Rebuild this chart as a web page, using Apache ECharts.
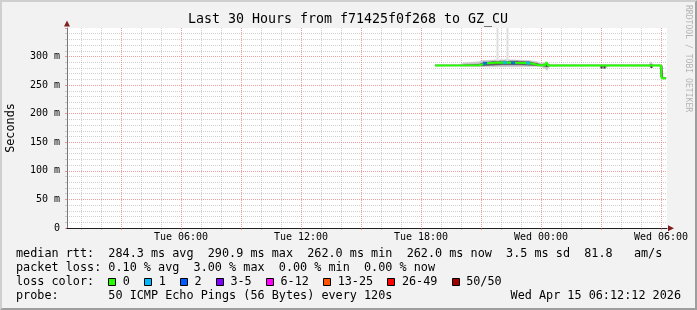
<!DOCTYPE html>
<html><head><meta charset="utf-8">
<script src="https://cdn.jsdelivr.net/npm/echarts@6/dist/echarts.min.js"></script>
<style>html,body{margin:0;padding:0;background:#f2f2f2}#c{width:697px;height:310px}</style>
</head><body><div id="c"></div>
<script>
// ================= DATA =================
const titleText = 'Last 30 Hours from f71425f0f268 to GZ_CU';
const yAxisName = 'Seconds';
const xTickHours = [6, 12, 18, 24, 30];
const xTickLabels = ['Tue 06:00', 'Tue 12:00', 'Tue 18:00', 'Wed 00:00', 'Wed 06:00'];
const yTickValues = [0, 50, 100, 150, 200, 250, 300];
const yTickLabels = ['0', '50 m', '100 m', '150 m', '200 m', '250 m', '300 m'];

// median RTT (ms) vs hours since Tue 00:00
const medianHours = [18.7, 20.9, 21.05, 21.3, 21.7, 22.2, 22.7, 23.2, 23.6, 23.85, 24.2, 24.27, 24.35, 29.45, 30.0, 30.03, 30.25];
const medianRtt   = [284.5, 284.8, 286, 288.5, 289, 289.5, 289, 288.8, 287.5, 285, 284.7, 290, 284.5, 284.3, 284.3, 262, 262];

// smoke (ping spread) bands
const smokeHours   = [18.7, 19.9, 20.2, 20.9, 21.1, 21.6, 22.2, 22.8, 23.4, 23.8, 24.0, 24.2, 24.3, 24.45, 26.9, 27.05, 27.25, 27.4, 29.4, 29.5, 29.6, 29.95, 30.03, 30.1, 30.25];
const smokeOuterLo = [283.5, 283.5, 283, 282.5, 282, 282, 282, 282, 282.5, 283, 282, 279, 276, 283, 283.5, 279.5, 280, 283.5, 283, 281, 283.5, 283.5, 262, 260.5, 260.5];
const smokeOuterHi = [286, 286, 289, 291, 293, 294, 294.5, 294, 293, 291, 288.5, 289, 290, 286, 286, 286, 286, 286, 286, 291, 286, 286, 285, 264, 264];
const smokeInnerLo = [284, 284, 284, 284, 284, 285, 285.5, 285.5, 285, 284, 284, 283, 282, 284, 284, 284, 284, 284, 284, 283, 284, 284, 264, 261.5, 261.5];
const smokeInnerHi = [285, 285, 285.5, 286.5, 289, 291.5, 292, 292, 291, 288, 285.5, 287, 288, 285, 285, 285, 285, 285, 285, 286, 285, 285, 276, 263, 263];

// isolated far pings (faint tall spikes) and dark short marks
const spikeHours = [21.8, 22.3];
const spikeLo    = [292, 292];
const spikeHi    = [352, 352];
const markHours  = [24.25, 27.0, 27.15, 29.5, 30.02];
const markLo     = [283, 279, 279, 280, 264];
const markHi     = [289, 284, 284, 285.5, 284];

// samples with packet loss (lost pings out of 50)
const lossHours = [21.2, 22.2, 22.6, 23.35];
const lossRtt   = [288.3, 289.5, 289, 288.6];
const lossCount = [2, 1, 2, 1];

const lossLabels = ['0', '1', '2', '3-5', '6-12', '13-25', '26-49', '50/50'];
const lossUpper  = [0, 1, 2, 5, 12, 25, 49, 50];
const medianStats = ['284.3 ms avg', '290.9 ms max', '262.0 ms min', '262.0 ms now', '3.5 ms sd', '81.8   am/s'];
const lossStats   = ['0.10 % avg', '3.00 % max', '0.00 % min', '0.00 % now'];
const probeText   = '50 ICMP Echo Pings (56 Bytes) every 120s';
const stampText   = 'Wed Apr 15 06:12:12 2026';
const watermark   = 'RRDTOOL / TOBI OETIKER';

// ================= STYLE / LAYOUT =================
const lossColors = ['#26ff00', '#00b8ff', '#0059ff', '#7e00ff', '#ff00ff', '#ff5500', '#ff0000', '#a10000'];
const MONO = 'DejaVu Sans Mono';
const GRID = {left: 67, right: 30, top: 28, bottom: 82};
const X_MIN = 0.3, X_MAX = 30.3;
const minorGrid = 'rgba(143,143,143,0.42)';
const majorGrid = 'rgba(222,79,79,0.55)';
const CH = 7.1, TX = 16;

const allHours = [];
for (let h = 1; h <= 30; h++) allHours.push(h);
const majorHours = allHours.filter(h => h % 3 === 0);
const minorHours = allHours.filter(h => h % 3 !== 0);

const zip = (a, b) => a.map((v, i) => [v, b[i]]);
const bucket = n => lossUpper.findIndex(u => n <= u);

function bandSeries(lo, hi, color) {
  return {
    type: 'custom', silent: true, z: 2, clip: true,
    data: smokeHours.map((h, i) => [h, lo[i], hi[i], i]),
    encode: {x: 0, y: [1, 2]},
    renderItem: (params, api) => {
      const i = api.value(3);
      if (i >= smokeHours.length - 1) return null;
      const a1 = api.coord([smokeHours[i], lo[i]]);
      const b1 = api.coord([smokeHours[i], hi[i]]);
      const a2 = api.coord([smokeHours[i + 1], lo[i + 1]]);
      const b2 = api.coord([smokeHours[i + 1], hi[i + 1]]);
      return {type: 'polygon', shape: {points: [a1, a2, b2, b1]}, style: {fill: color, stroke: color, lineWidth: 0.5}};
    }
  };
}
function vlineSeries(hours, lo, hi, color, width) {
  return {
    type: 'custom', silent: true, z: 3, clip: true,
    data: hours.map((h, i) => [h, lo[i], hi[i]]),
    encode: {x: 0, y: [1, 2]},
    renderItem: (params, api) => {
      const a = api.coord([api.value(0), api.value(1)]);
      const b = api.coord([api.value(0), api.value(2)]);
      return {type: 'line', shape: {x1: Math.round(a[0]) + 0.5, y1: a[1], x2: Math.round(a[0]) + 0.5, y2: b[1]},
              style: {stroke: color, lineWidth: width}};
    }
  };
}

const W = 697, H = 310;
const g = [];
g.push({type: 'polygon', shape: {points: [[0,0],[W,0],[W-2,2],[2,2],[2,H-2],[0,H]]}, style: {fill: '#cfcfcf'}, silent: true});
g.push({type: 'polygon', shape: {points: [[W,0],[W,H],[0,H],[2,H-2],[W-2,H-2],[W-2,2]]}, style: {fill: '#9e9e9e'}, silent: true});
g.push({type: 'text', x: 348, y: 19.5, style: {text: titleText, font: '13.3px "' + MONO + '"', fill: '#000', align: 'center', verticalAlign: 'middle'}});
g.push({type: 'text', x: 11, y: 128, rotation: Math.PI / 2, style: {text: yAxisName, font: '11.8px "' + MONO + '"', fill: '#000', align: 'center', verticalAlign: 'middle'}});
g.push({type: 'text', x: 688, y: 5, rotation: -Math.PI / 2, style: {text: watermark, font: '8.1px "' + MONO + '"', fill: '#b4b4b4', align: 'left', verticalAlign: 'middle'}});
g.push({type: 'polygon', shape: {points: [[64,26.5],[70,26.5],[67,20.5]]}, style: {fill: '#801f1f'}, silent: true});
g.push({type: 'polygon', shape: {points: [[668,225.3],[668,231.3],[674,228.3]]}, style: {fill: '#801f1f'}, silent: true});
const legendFont = '11.8px "' + MONO + '"';
g.push({type: 'text', x: TX, y: 254, style: {text: 'median rtt:  ' + medianStats.join('  '), font: legendFont, fill: '#000', verticalAlign: 'middle'}});
g.push({type: 'text', x: TX, y: 268, style: {text: 'packet loss: ' + lossStats.join('  '), font: legendFont, fill: '#000', verticalAlign: 'middle'}});
g.push({type: 'text', x: TX, y: 282, style: {text: 'loss color:', font: legendFont, fill: '#000', verticalAlign: 'middle'}});
let col = 13;
lossLabels.forEach((lab, i) => {
  const bx = TX + col * CH;
  g.push({type: 'rect', shape: {x: Math.round(bx) + 0.5, y: 278.5, width: 7, height: 7}, style: {fill: lossColors[i], stroke: '#000', lineWidth: 1}, silent: true});
  g.push({type: 'text', x: bx + 2.05 * CH, y: 282, style: {text: lab, font: legendFont, fill: '#000', verticalAlign: 'middle'}});
  col += 2.05 + lab.length + 2;
});
g.push({type: 'text', x: TX, y: 296, style: {text: 'probe:       ' + probeText, font: legendFont, fill: '#000', verticalAlign: 'middle'}});
g.push({type: 'text', x: 681, y: 296, style: {text: stampText, font: legendFont, fill: '#000', align: 'right', verticalAlign: 'middle'}});

const baseXAxis = {type: 'value', min: X_MIN, max: X_MAX, position: 'bottom', gridIndex: 0};

const option = {
  animation: false,
  backgroundColor: '#f2f2f2',
  grid: {left: GRID.left, right: GRID.right, top: GRID.top, bottom: GRID.bottom, show: true, backgroundColor: '#ffffff', borderWidth: 0, containLabel: false},
  xAxis: [
    Object.assign({}, baseXAxis, {
      axisLine: {show: true, onZero: false, lineStyle: {color: '#1f1f1f', width: 1}},
      axisTick: {show: true, customValues: majorHours, length: 2, lineStyle: {color: majorGrid}},
      axisLabel: {show: true, customValues: xTickHours, margin: 4,
        formatter: v => { const i = xTickHours.indexOf(Math.round(v)); return i >= 0 ? xTickLabels[i] : ''; },
        fontFamily: MONO, fontSize: 10, color: '#000'},
      splitLine: {show: true, lineStyle: {color: majorGrid, type: [1, 1], width: 1}},
      z: 1
    }),
    Object.assign({}, baseXAxis, {
      axisLine: {show: false},
      axisTick: {show: true, customValues: minorHours, length: 2, lineStyle: {color: minorGrid}},
      axisLabel: {show: false},
      splitLine: {show: true, lineStyle: {color: minorGrid, type: [1, 1], width: 1}},
      z: 0
    })
  ],
  yAxis: {
    type: 'value', min: 0, max: 350, interval: 50,
    axisLine: {show: true, onZero: false, lineStyle: {color: '#777', width: 1}},
    axisTick: {show: true, length: 2, lineStyle: {color: majorGrid}},
    minorTick: {show: true, splitNumber: 5, length: 2, lineStyle: {color: minorGrid}},
    axisLabel: {margin: 7, fontFamily: MONO, fontSize: 10, color: '#000',
      formatter: v => { const i = yTickValues.indexOf(v); return i >= 0 ? yTickLabels[i] : ''; }},
    splitLine: {show: true, showMaxLine: false, lineStyle: {color: majorGrid, type: [1, 1], width: 1}},
    minorSplitLine: {show: true, lineStyle: {color: minorGrid, type: [1, 1], width: 1}}
  },
  series: [
    bandSeries(smokeOuterLo, smokeOuterHi, '#c8c8c8'),
    bandSeries(smokeInnerLo, smokeInnerHi, '#5e5e5e'),
    vlineSeries(spikeHours, spikeLo, spikeHi, '#dedede', 2),
    vlineSeries(markHours, markLo, markHi, '#3a3a3a', 2),
    {type: 'line', name: 'median', data: zip(medianHours, medianRtt), symbol: 'none', z: 4,
     lineStyle: {color: lossColors[0], width: 2}, silent: true},
    {type: 'scatter', name: 'loss', data: lossHours.map((h, i) => [h, lossRtt[i], lossCount[i]]), symbol: 'rect', symbolSize: [4, 3], z: 5,
     itemStyle: {color: p => lossColors[bucket(p.data[2])]}, silent: true}
  ],
  graphic: g
};

const chart = echarts.init(document.getElementById('c'), null, {renderer: 'canvas'});
chart.setOption(option);
</script>
</body></html>
